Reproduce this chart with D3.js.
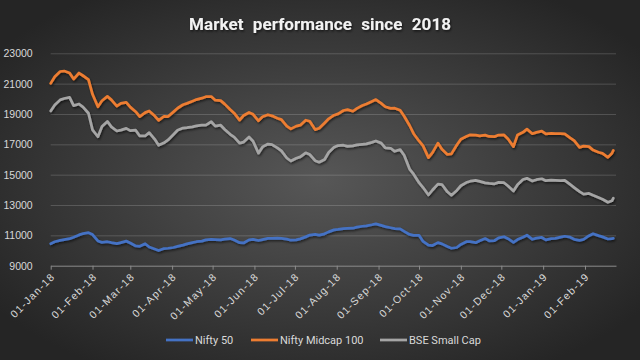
<!DOCTYPE html>
<html>
<head>
<meta charset="utf-8">
<title>Market performance since 2018</title>
<script src="https://cdn.jsdelivr.net/npm/d3@7"></script>
<style>
body { margin:0; background:#262626; }
svg { display:block; font-family: Roboto, "Noto Sans", sans-serif; }
</style>
</head>
<body>
<svg id="chart"></svg>
<script>
// trading dates (sampled twice a week)
var dates = [
 "2018-01-01","2018-01-04","2018-01-08","2018-01-11","2018-01-15","2018-01-18","2018-01-22","2018-01-25","2018-01-29",
 "2018-02-01","2018-02-05","2018-02-08","2018-02-12","2018-02-15","2018-02-19","2018-02-22","2018-02-26",
 "2018-03-01","2018-03-05","2018-03-08","2018-03-12","2018-03-15","2018-03-19","2018-03-22","2018-03-26","2018-03-29",
 "2018-04-02","2018-04-05","2018-04-09","2018-04-12","2018-04-16","2018-04-19","2018-04-23","2018-04-26","2018-04-30",
 "2018-05-03","2018-05-07","2018-05-10","2018-05-14","2018-05-17","2018-05-21","2018-05-24","2018-05-28","2018-05-31",
 "2018-06-04","2018-06-07","2018-06-11","2018-06-14","2018-06-18","2018-06-21","2018-06-25","2018-06-28",
 "2018-07-02","2018-07-05","2018-07-09","2018-07-12","2018-07-16","2018-07-19","2018-07-23","2018-07-26","2018-07-30",
 "2018-08-02","2018-08-06","2018-08-09","2018-08-13","2018-08-16","2018-08-20","2018-08-23","2018-08-27","2018-08-30",
 "2018-09-03","2018-09-06","2018-09-10","2018-09-13","2018-09-17","2018-09-20","2018-09-24","2018-09-27",
 "2018-10-01","2018-10-04","2018-10-08","2018-10-11","2018-10-15","2018-10-18","2018-10-22","2018-10-25","2018-10-29",
 "2018-11-01","2018-11-05","2018-11-08","2018-11-12","2018-11-15","2018-11-19","2018-11-22","2018-11-26","2018-11-29",
 "2018-12-03","2018-12-06","2018-12-10","2018-12-13","2018-12-17","2018-12-20","2018-12-24","2018-12-27","2018-12-31",
 "2019-01-03","2019-01-07","2019-01-10","2019-01-14","2019-01-17","2019-01-21","2019-01-24","2019-01-28","2019-01-31",
 "2019-02-04","2019-02-07","2019-02-11","2019-02-14","2019-02-18","2019-02-21","2019-02-22"
];

var nifty50 = [
 10450,10580,10670,10720,10780,10880,11030,11120,11175,
 11050,10630,10540,10580,10520,10450,10520,10620,
 10500,10300,10280,10450,10230,10100,10000,10130,10150,
 10200,10270,10360,10440,10520,10580,10620,10700,10740,
 10720,10700,10750,10790,10690,10520,10500,10700,10730,
 10660,10720,10800,10800,10810,10800,10750,10680,
 10700,10770,10900,11020,11060,11020,11100,11230,11360,
 11390,11440,11460,11470,11540,11600,11630,11700,11760,
 11660,11580,11500,11440,11430,11260,11060,11000,
 11000,10600,10360,10330,10520,10440,10260,10150,10200,
 10400,10580,10580,10520,10650,10790,10640,10660,10830,
 10910,10780,10540,10720,10880,11010,10740,10820,10860,
 10700,10780,10800,10880,10940,10880,10740,10670,10740,
 10980,11110,10980,10900,10760,10790,10800
];

var midcap100 = [
 21020,21460,21800,21830,21700,21300,21700,21520,21270,
 20300,19480,19870,20160,19930,19520,19700,19770,
 19450,19150,18830,19090,19200,18880,18580,18850,18830,
 19140,19380,19610,19700,19840,19950,20040,20140,20150,
 19910,19880,19650,19300,19050,18600,18900,19100,18980,
 18550,18820,18950,18880,18720,18630,18200,18020,
 18200,18260,18590,18520,17970,18060,18410,18680,18920,
 19010,19230,19290,19180,19370,19560,19660,19830,19950,
 19700,19480,19370,19380,19240,18850,18240,17700,
 17220,16900,16120,16450,17080,16670,16330,16370,16950,
 17340,17510,17630,17610,17560,17610,17520,17510,17610,
 17620,17350,16850,17620,17790,18000,17700,17790,17870,
 17690,17720,17710,17700,17690,17430,17240,16800,16880,
 16850,16620,16480,16400,16140,16410,16600
];

var smallCap = [
 19200,19590,19930,20020,20100,19550,19660,19450,19050,
 17950,17500,18170,18510,18150,17880,17940,18050,
 17900,17930,17550,17550,17770,17350,16940,17100,17290,
 17650,17930,18070,18100,18150,18220,18270,18270,18490,
 18200,18260,17980,17660,17480,17080,17150,17480,17200,
 16420,16830,17020,16980,16770,16570,16100,15900,
 16080,16170,16440,16330,15920,15820,16000,16460,16800,
 16920,16940,16870,16900,16960,17000,17030,17130,17220,
 17080,16760,16740,16540,16650,16280,15370,15030,
 14470,14150,13660,13990,14380,14350,13870,13640,13960,
 14270,14480,14570,14620,14560,14460,14420,14400,14490,
 14470,14250,13920,14340,14680,14760,14580,14670,14730,
 14600,14640,14630,14610,14630,14360,14150,13880,13720,
 13760,13640,13490,13380,13180,13280,13450
];

var seriesNames = ["Nifty 50","Nifty Midcap 100","BSE Small Cap"];
var seriesColors = ["#4472c4","#ed7d31","#a5a5a5"];
var yTicks = [9000,11000,13000,15000,17000,19000,21000,23000];
var monthTicks = ["2018-01-01","2018-02-01","2018-03-01","2018-04-01","2018-05-01","2018-06-01","2018-07-01",
                  "2018-08-01","2018-09-01","2018-10-01","2018-11-01","2018-12-01","2019-01-01","2019-02-01"];
var titleText = "Market performance since 2018";

var parseDate = d3.timeParse("%Y-%m-%d");

//the size of the screen and the plot box
var screen = {width:640, height:360};
var plot = {left:50.7, right:616, top:53.3, bottom:265.7};

var svg = d3.select("#chart")
    .attr("width",screen.width)
    .attr("height",screen.height);

var defs = svg.append("defs");

// dark excel style background, lighter in the middle
var grad = defs.append("radialGradient")
    .attr("id","bg")
    .attr("cx","50%").attr("cy","50%").attr("r","62%");
grad.append("stop").attr("offset","0%").attr("stop-color","#575757");
grad.append("stop").attr("offset","100%").attr("stop-color","#252525");

// soft shadow under the lines and the title
var shadow = defs.append("filter")
    .attr("id","shadow")
    .attr("x","-5%").attr("y","-20%").attr("width","110%").attr("height","140%");
shadow.append("feDropShadow")
    .attr("dx",1).attr("dy",1.5).attr("stdDeviation",1)
    .attr("flood-color","#000").attr("flood-opacity",0.6);

svg.append("rect")
    .attr("width",screen.width)
    .attr("height",screen.height)
    .attr("fill","url(#bg)");

//scales
var xScale = d3.scaleTime()
    .domain([parseDate("2018-01-01"), parseDate("2019-02-24")])
    .range([plot.left, plot.right]);

var yScale = d3.scaleLinear()
    .domain([9000,23000])
    .range([plot.bottom, plot.top]);

// y axis with the gridlines
var drawYAxis = function()
{
    var yAxis = d3.axisLeft(yScale)
        .tickValues(yTicks)
        .tickSize(-(plot.right-plot.left))
        .tickPadding(18)
        .tickFormat(d3.format("d"));

    var g = svg.append("g")
        .attr("transform","translate("+plot.left+",0)")
        .call(yAxis);
    g.select(".domain").remove();
    g.selectAll(".tick line")
        .attr("stroke","#ffffff")
        .attr("stroke-opacity",function(d){ return d==9000 ? 0 : 0.17; });
    g.selectAll(".tick text")
        .attr("fill","#d9d9d9")
        .style("font-size","10.5px");
};

// x axis with rotated month labels
var drawXAxis = function()
{
    var xAxis = d3.axisBottom(xScale)
        .tickValues(monthTicks.map(parseDate))
        .tickSize(4)
        .tickSizeOuter(0)
        .tickFormat(d3.timeFormat("%d-%b-%y"));

    var g = svg.append("g")
        .attr("transform","translate(0,"+plot.bottom+")")
        .call(xAxis);
    g.select(".domain").attr("stroke","#8c8c8c");
    g.selectAll(".tick line").attr("stroke","#8c8c8c");
    g.selectAll(".tick text")
        .attr("fill","#d9d9d9")
        .style("font-size","10.5px")
        .style("letter-spacing","1.2px")
        .attr("text-anchor","end")
        .attr("x",0).attr("y",0).attr("dy","0.35em")
        .attr("transform","translate(2,9) rotate(-45)");
};

// one line per index
var drawLines = function()
{
    var allSeries = [nifty50, midcap100, smallCap];
    var line = d3.line()
        .x(function(d,i){ return xScale(parseDate(dates[i])); })
        .y(function(d){ return yScale(d); });

    svg.append("g")
        .attr("filter","url(#shadow)")
        .selectAll("path")
        .data(allSeries)
        .enter()
        .append("path")
        .attr("d",line)
        .attr("fill","none")
        .attr("stroke",function(d,i){ return seriesColors[i]; })
        .attr("stroke-width",2.75)
        .attr("stroke-linejoin","round")
        .attr("stroke-linecap","round");
};

var drawLegend = function()
{
    var xs = [166, 251, 380];
    var legend = svg.append("g");
    var items = legend.selectAll("g")
        .data(seriesNames)
        .enter()
        .append("g")
        .attr("transform",function(d,i){ return "translate("+xs[i]+",340)"; });
    items.append("line")
        .attr("x1",0).attr("x2",27)
        .attr("stroke",function(d,i){ return seriesColors[i]; })
        .attr("stroke-width",2.75);
    items.append("text")
        .attr("x",29).attr("dy","0.35em")
        .attr("fill","#d9d9d9")
        .style("font-size","11px")
        .text(function(d){ return d; });
};

var setTitle = function(msg)
{
    svg.append("text")
        .attr("x",320).attr("y",30)
        .attr("text-anchor","middle")
        .attr("fill","#f2f2f2")
        .attr("filter","url(#shadow)")
        .style("font-size","17px")
        .style("font-weight","bold")
        .style("word-spacing","5px")
        .attr("textLength",262)
        .attr("lengthAdjust","spacing")
        .text(msg);
};

drawYAxis();
drawXAxis();
drawLines();
drawLegend();
setTitle(titleText);
</script>
</body>
</html>
